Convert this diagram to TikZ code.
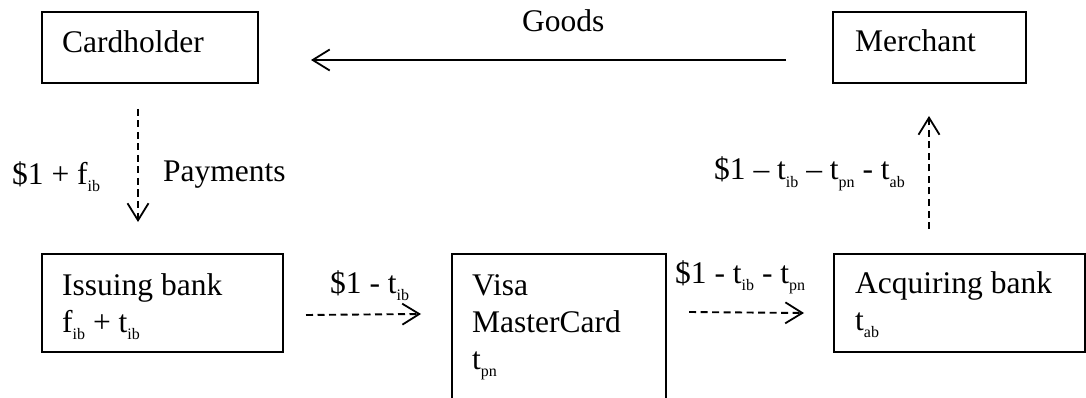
\documentclass[tikz,border=0pt]{standalone}
\usepackage{fontspec}
\setmainfont{Liberation Serif}
\usetikzlibrary{arrows.meta}
% small lowered index, as in t_ib
\newcommand\idx[1]{\raisebox{-7pt}{\fontsize{16}{16}\selectfont #1}}
\tikzset{
  box/.style={draw, line width=2pt, rectangle, inner sep=0pt},
  txt/.style={anchor=base west, inner sep=0pt, font=\fontsize{31.5}{36}\selectfont},
  goods/.style={line width=1.8pt, -{Straight Barb[length=17pt,width=21pt,line width=1.8pt]}},
  flow/.style={line width=1.9pt, dash pattern=on 7pt off 4.5pt,
    -{Straight Barb[length=17pt,width=21pt,line width=1.8pt]}}
}
\begin{document}
\begin{tikzpicture}[x=1pt,y=-1pt]
\useasboundingbox (0,0) rectangle (1086,398);

% boxes
\node[box, minimum width=216pt, minimum height=71pt] (ch) at (150,47.5) {};
\node[box, minimum width=193pt, minimum height=71pt] (me) at (929.5,47.5) {};
\node[box, minimum width=241pt, minimum height=98pt] (ib) at (162.5,303) {};
\node[box, minimum width=214pt, minimum height=166pt] (pn) at (559,337) {};
\node[box, minimum width=251pt, minimum height=98pt] (ab) at (959.5,303) {};

% box texts
\node[txt] (tch) at (62,53) {Cardholder};
\node[txt] (tme) at (855,52) {Merchant};
\node[txt] (tib1) at (62,295) {Issuing bank};
\node[txt] (tib2) at (62,332) {f\idx{ib} + t\idx{ib}};
\node[txt] (tpn1) at (472,295) {Visa};
\node[txt] (tpn2) at (472,332) {MasterCard};
\node[txt] (tpn3) at (472,369) {t\idx{pn}};
\node[txt] (tab1) at (855,293) {Acquiring bank};
\node[txt] (tab2) at (855,330) {t\idx{ab}};

% flow labels
\node[txt] (lgoods) at (522,32) {Goods};
\node[txt] (lpay1) at (12,185) {\$1 + f\idx{ib}};
\node[txt] (lpay2) at (163,182) {Payments};
\node[txt] (lme) at (714,180) {\$1 – t\idx{ib} – t\idx{pn} - t\idx{ab}};
\node[txt] (lpn) at (330,293) {\$1 - t\idx{ib}};
\node[txt] (lab) at (675,283) {\$1 - t\idx{ib} - t\idx{pn}};

% connectors
\draw[goods] ([xshift=-46pt,yshift=-12.5pt]me.west) -- ([xshift=52pt,yshift=-12.5pt]ch.east);
\draw[flow] ([xshift=-12pt,yshift=-25pt]ch.south) -- ([xshift=-24.5pt,yshift=31pt]ib.north);
\draw[flow] ([xshift=-30.5pt,yshift=24pt]ab.north) -- ([xshift=-0.5pt,yshift=-32pt]me.south);
\draw[flow] ([xshift=22pt,yshift=-12pt]ib.east) -- ([xshift=-30pt,yshift=-61pt]pn.north west);
\draw[flow] ([xshift=22pt,yshift=-59pt]pn.north east) -- ([xshift=-29pt,yshift=-10pt]ab.west);
\end{tikzpicture}
\end{document}
